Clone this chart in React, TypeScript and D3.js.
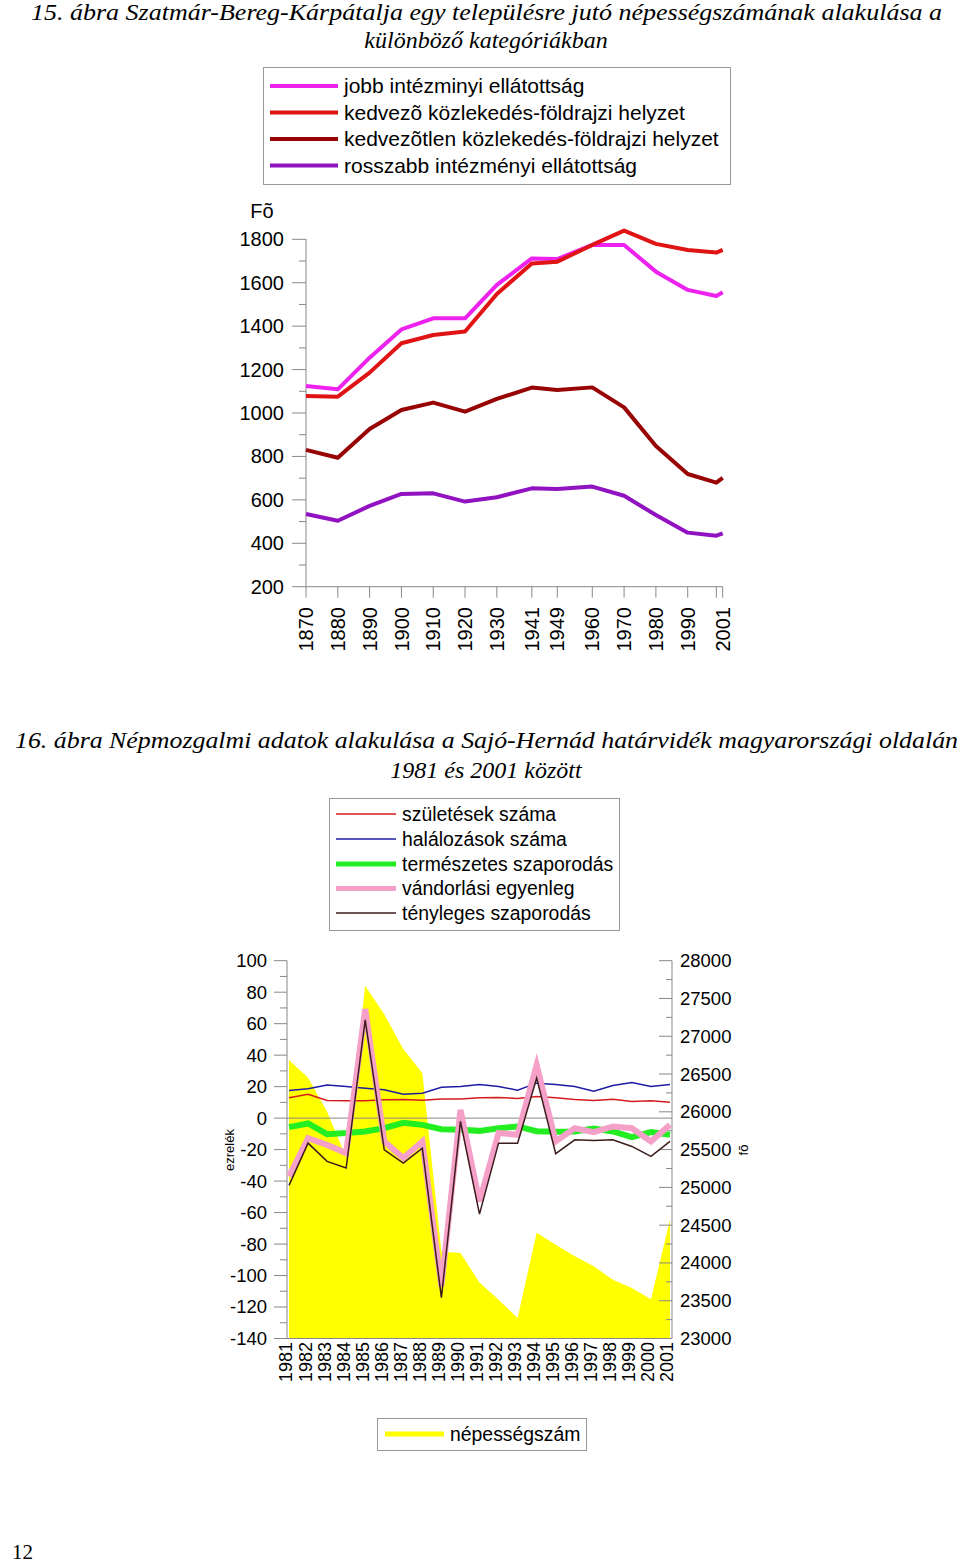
import React from "react";
import * as d3 from "d3";

// ---------- Chart 1 data ----------
const years1 = [1870, 1880, 1890, 1900, 1910, 1920, 1930, 1941, 1949, 1960, 1970, 1980, 1990, 1999, 2001];
const labeledYears1 = [1870, 1880, 1890, 1900, 1910, 1920, 1930, 1941, 1949, 1960, 1970, 1980, 1990, 2001];
const jobbIntezmenyi = [1124, 1109, 1255, 1385, 1436, 1436, 1590, 1712, 1709, 1774, 1774, 1651, 1567, 1539, 1556];
const kedvezoKozl = [1078, 1075, 1186, 1321, 1359, 1375, 1548, 1689, 1697, 1774, 1840, 1779, 1751, 1739, 1751];
const kedvezotlenKozl = [830, 794, 926, 1014, 1048, 1006, 1065, 1117, 1106, 1118, 1026, 848, 719, 679, 701];
const rosszabbIntezmenyi = [535, 504, 572, 627, 630, 592, 612, 653, 650, 661, 619, 530, 449, 435, 446];
const yTicks1 = [200, 400, 600, 800, 1000, 1200, 1400, 1600, 1800];
const series1Names = [
  "jobb intézminyi ellátottság",
  "kedvezõ közlekedés-földrajzi helyzet",
  "kedvezõtlen közlekedés-földrajzi helyzet",
  "rosszabb intézményi ellátottság",
];
const series1Colors = ["#ee22ee", "#e01414", "#980404", "#9012c0"];

// ---------- Chart 2 data ----------
const years2 = [1981, 1982, 1983, 1984, 1985, 1986, 1987, 1988, 1989, 1990, 1991, 1992, 1993, 1994, 1995, 1996, 1997, 1998, 1999, 2000, 2001];
const szuletesek = [12.9, 15.2, 11.2, 11.0, 11.0, 11.6, 11.8, 11.4, 12.2, 12.2, 12.9, 13.1, 12.5, 13.7, 12.9, 11.8, 11.2, 12.0, 10.6, 11.0, 10.1];
const halalozasok = [17.5, 18.6, 21.1, 20.1, 19.0, 18.0, 15.2, 15.8, 19.6, 20.1, 21.3, 20.1, 17.7, 22.2, 21.3, 20.1, 17.1, 20.7, 22.6, 20.1, 21.3];
const termeszetes = [-5.7, -3.4, -10.2, -9.5, -8.5, -6.4, -3.0, -4.3, -7.0, -7.4, -8.1, -6.4, -5.3, -8.3, -8.7, -8.5, -6.6, -8.5, -12.1, -8.9, -10.6];
const vandorlasi = [-37, -12.7, -17, -22.2, 69.3, -14.8, -25.4, -14.8, -107, 5.3, -53, -9.5, -10.6, 33.8, -14.8, -6.4, -8.9, -5.3, -6.4, -14.8, -4.3];
const tenyleges = [-42.7, -15.9, -27.5, -31.7, 62.4, -20.1, -28.6, -19.1, -114, -2.1, -61, -15.9, -15.9, 25.4, -22.6, -13.8, -14.2, -13.8, -18, -24.3, -14.8];
const nepessegszam = [26687, 26450, 26000, 25400, 27665, 27290, 26830, 26510, 24153, 24132, 23740, 23514, 23272, 24400, 24240, 24087, 23955, 23779, 23668, 23520, 24572];
const yTicks2L = [100, 80, 60, 40, 20, 0, -20, -40, -60, -80, -100, -120, -140];
const yTicks2R = [28000, 27500, 27000, 26500, 26000, 25500, 25000, 24500, 24000, 23500, 23000];
const series2Names = ["születések száma", "halálozások száma", "természetes szaporodás", "vándorlási egyenleg", "tényleges szaporodás"];
const series2Colors = ["#d41c1c", "#1c1ca4", "#22ee22", "#f5a0c8", "#3c1c1c"];
const series2Widths = [1.5, 1.5, 6, 6, 1.5];

const SANS = "'Liberation Sans', Arial, sans-serif";
const SERIF = "'Liberation Serif', 'Times New Roman', serif";
const AXIS = "#888";

export default function App() {
  // chart 1 scales
  const x1 = d3.scaleLinear().domain([1870, 2001]).range([306, 722.7]);
  const y1 = d3.scaleLinear().domain([200, 1800]).range([586.7, 239.3]);
  const line1 = d3.line<number>().x((_, i) => x1(years1[i])).y((d) => y1(d));
  const series1 = [jobbIntezmenyi, kedvezoKozl, kedvezotlenKozl, rosszabbIntezmenyi];
  const minor1 = d3.range(300, 1800, 200);

  // chart 2 scales
  const x2 = d3.scaleLinear().domain([1981, 2001]).range([289, 670]);
  const yL = d3.scaleLinear().domain([-140, 100]).range([1338.5, 960.7]);
  const yR = d3.scaleLinear().domain([23000, 28000]).range([1338.5, 960.7]);
  const line2 = d3.line<number>().x((_, i) => x2(years2[i])).y((d) => yL(d));
  const area2 = d3
    .area<number>()
    .x((_, i) => x2(years2[i]))
    .y0(yR(23000))
    .y1((d) => yR(d));
  const series2 = [szuletesek, halalozasok, termeszetes, vandorlasi, tenyleges];
  const minor2L = d3.range(-130, 100, 20);
  const minor2R = d3.range(23250, 28000, 500);

  const legend1Y = [86, 112.5, 139, 165.5];
  const legend2Y = [814, 839, 864, 888.5, 913];

  return (
    <svg
      width={960}
      height={1566}
      style={{ position: "absolute", left: 0, top: 0, background: "#fff" }}
      xmlns="http://www.w3.org/2000/svg"
    >
      <rect x={0} y={0} width={960} height={1566} fill="#fff" />
      {/* ---------------- Chart 1 ---------------- */}
      <g fontFamily={SERIF} fontStyle="italic" fontSize={24} fill="#000">
        <text x={31} y={20} textLength={911} lengthAdjust="spacingAndGlyphs">
          15. ábra  Szatmár-Bereg-Kárpátalja egy településre jutó népességszámának alakulása a
        </text>
        <text x={486} y={48} textAnchor="middle">
          különböző kategóriákban
        </text>
      </g>
      <rect x={263.5} y={67.5} width={467} height={117} fill="#fff" stroke="#999" strokeWidth={1} />
      {series1Names.map((n, i) => (
        <g key={n}>
          <line x1={270} x2={338} y1={legend1Y[i]} y2={legend1Y[i]} stroke={series1Colors[i]} strokeWidth={4} />
          <text x={344} y={legend1Y[i]} dy="0.35em" fontFamily={SANS} fontSize={21} fill="#000">
            {n}
          </text>
        </g>
      ))}
      <text x={262} y={218} textAnchor="middle" fontFamily={SANS} fontSize={20}>
        Fõ
      </text>
      {/* y axis */}
      <line x1={306} x2={306} y1={y1(1800)} y2={y1(200)} stroke={AXIS} strokeWidth={1} />
      {yTicks1.map((t) => (
        <g key={t}>
          <line x1={292} x2={306} y1={y1(t)} y2={y1(t)} stroke={AXIS} strokeWidth={1} />
          <text x={284} y={y1(t)} dy="0.35em" textAnchor="end" fontFamily={SANS} fontSize={20}>
            {t}
          </text>
        </g>
      ))}
      {minor1.map((t) => (
        <line key={t} x1={299} x2={306} y1={y1(t)} y2={y1(t)} stroke={AXIS} strokeWidth={1} />
      ))}
      {/* x axis */}
      <line x1={306} x2={x1(2001)} y1={y1(200)} y2={y1(200)} stroke={AXIS} strokeWidth={1} />
      {years1.map((yr) => (
        <line key={yr} x1={x1(yr)} x2={x1(yr)} y1={y1(200)} y2={y1(200) + 11} stroke={AXIS} strokeWidth={1} />
      ))}
      {labeledYears1.map((yr) => (
        <text
          key={yr}
          transform={`translate(${x1(yr)},${607}) rotate(-90)`}
          dy="0.36em"
          textAnchor="end"
          fontFamily={SANS}
          fontSize={20}
        >
          {yr}
        </text>
      ))}
      {series1.map((s, i) => (
        <path key={i} d={line1(s) || ""} fill="none" stroke={series1Colors[i]} strokeWidth={4} strokeLinejoin="round" />
      ))}

      {/* ---------------- Chart 2 ---------------- */}
      <g fontFamily={SERIF} fontStyle="italic" fontSize={24} fill="#000">
        <text x={15} y={748} textLength={943} lengthAdjust="spacingAndGlyphs">
          16. ábra  Népmozgalmi adatok alakulása a Sajó-Hernád határvidék magyarországi oldalán
        </text>
        <text x={486} y={778} textAnchor="middle">
          1981 és 2001 között
        </text>
      </g>
      <rect x={329.5} y={798.5} width={290} height={132} fill="#fff" stroke="#999" strokeWidth={1} />
      {series2Names.map((n, i) => (
        <g key={n}>
          <line x1={336} x2={396} y1={legend2Y[i]} y2={legend2Y[i]} stroke={series2Colors[i]} strokeWidth={series2Widths[i] === 6 ? 5 : 1.5} />
          <text x={402} y={legend2Y[i]} dy="0.35em" fontFamily={SANS} fontSize={19.4} fill="#000">
            {n}
          </text>
        </g>
      ))}

      {/* area */}
      <path d={area2(nepessegszam) || ""} fill="#ffff00" stroke="none" />
      {/* zero line */}
      <line x1={287} x2={672} y1={yL(0)} y2={yL(0)} stroke={AXIS} strokeWidth={1} />
      {/* left axis */}
      <line x1={287} x2={287} y1={yL(100)} y2={yL(-140)} stroke={AXIS} strokeWidth={1} />
      {yTicks2L.map((t) => (
        <g key={t}>
          <line x1={274} x2={287} y1={yL(t)} y2={yL(t)} stroke={AXIS} strokeWidth={1} />
          <text x={267} y={yL(t)} dy="0.35em" textAnchor="end" fontFamily={SANS} fontSize={18.5}>
            {t}
          </text>
        </g>
      ))}
      {minor2L.map((t) => (
        <line key={t} x1={280} x2={287} y1={yL(t)} y2={yL(t)} stroke={AXIS} strokeWidth={1} />
      ))}
      {/* right axis */}
      <line x1={672} x2={672} y1={yR(28000)} y2={yR(23000)} stroke={AXIS} strokeWidth={1} />
      {yTicks2R.map((t) => (
        <g key={t}>
          <line x1={659} x2={672} y1={yR(t)} y2={yR(t)} stroke={AXIS} strokeWidth={1} />
          <text x={680} y={yR(t)} dy="0.35em" textAnchor="start" fontFamily={SANS} fontSize={18.5}>
            {t}
          </text>
        </g>
      ))}
      {minor2R.map((t) => (
        <line key={t} x1={666} x2={672} y1={yR(t)} y2={yR(t)} stroke={AXIS} strokeWidth={1} />
      ))}
      {/* bottom axis */}
      <line x1={287} x2={672} y1={yL(-140)} y2={yL(-140)} stroke={AXIS} strokeWidth={1} />
      {years2.map((yr) => (
        <text
          key={yr}
          transform={`translate(${x2(yr) - 3},${1342}) rotate(-90)`}
          dy="0.36em"
          textAnchor="end"
          fontFamily={SANS}
          fontSize={18}
        >
          {yr}
        </text>
      ))}
      <text transform="translate(229,1150) rotate(-90)" dy="0.35em" textAnchor="middle" fontFamily={SANS} fontSize={13}>
        ezrelék
      </text>
      <text transform="translate(743,1150) rotate(-90)" dy="0.35em" textAnchor="middle" fontFamily={SANS} fontSize={13}>
        fõ
      </text>
      {series2.map((s, i) => (
        <path
          key={i}
          d={line2(s) || ""}
          fill="none"
          stroke={series2Colors[i]}
          strokeWidth={series2Widths[i]}
          strokeLinejoin="miter"
        />
      ))}

      {/* legend 3 */}
      <rect x={377.5} y={1418.5} width={209} height={32} fill="#fff" stroke="#999" strokeWidth={1} />
      <line x1={385} x2={444} y1={1434} y2={1434} stroke="#ffff00" strokeWidth={5} />
      <text x={450} y={1434} dy="0.35em" fontFamily={SANS} fontSize={19.4}>
        népességszám
      </text>

      <text x={12} y={1559} fontFamily={SERIF} fontSize={21}>
        12
      </text>
    </svg>
  );
}
